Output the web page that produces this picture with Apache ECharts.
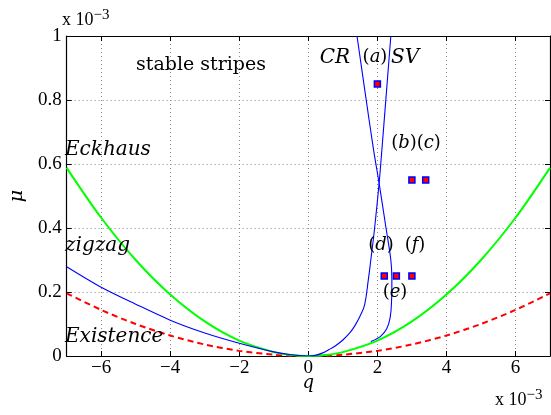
<!DOCTYPE html>
<html>
<head>
<meta charset="utf-8">
<script src="https://cdn.jsdelivr.net/npm/echarts@6/dist/echarts.min.js"></script>
<style>
html, body { margin: 0; padding: 0; background: #fff; }
#chart-container { width: 551px; height: 415px; }
</style>
</head>
<body>
<div id="chart-container"></div>
<script>
// values in units of 1e-3 (q, mu)
var qTicks = [-6, -4, -2, 0, 2, 4, 6];

var existence = [[-7, 0.196], [-6, 0.144], [-5, 0.1], [-4, 0.064], [-3, 0.036], [-2, 0.016], [-1, 0.004], [-0.5, 0.001], [0, 0],
    [0.5, 0.001], [1, 0.004], [2, 0.016], [3, 0.036], [4, 0.064], [5, 0.1], [6, 0.144], [7, 0.196]];
var eckhaus = [[-7, 0.588], [-6, 0.432], [-5, 0.3], [-4, 0.192], [-3, 0.108], [-2, 0.048], [-1, 0.012], [-0.5, 0.003], [0, 0],
    [0.5, 0.003], [1, 0.012], [2, 0.048], [3, 0.108], [4, 0.192], [5, 0.3], [6, 0.432], [7, 0.588]];
var zigzag = [[-7, 0.279], [-6, 0.215], [-5, 0.162], [-4, 0.112], [-3, 0.072], [-2, 0.04], [-1, 0.013], [-0.5, 0.004], [0, 0]];
var crossRoll = [[1.41, 1.0], [1.65, 0.82], [1.89, 0.644], [2.05, 0.54], [2.25, 0.4], [2.39, 0.3], [2.42, 0.24], [2.41, 0.17],
    [2.37, 0.12], [2.27, 0.085], [2.1, 0.062], [1.95, 0.052], [1.81, 0.045]];
var skewVaricose = [[2.39, 1.0], [2.13, 0.644], [2.05, 0.54], [1.92, 0.4], [1.81, 0.3], [1.74, 0.24], [1.63, 0.16], [1.5, 0.125],
    [1.35, 0.095], [1.2, 0.072], [1.0, 0.05], [0.8, 0.033], [0.6, 0.02], [0.4, 0.009], [0.2, 0.002], [0, 0]];
var runs = [[2.0, 0.85], [3.0, 0.55], [3.4, 0.55], [2.2, 0.25], [2.55, 0.25], [3.0, 0.25]];

var dom = document.getElementById('chart-container');
var myChart = echarts.init(dom, null, { renderer: 'canvas' });

var tickFamily = 'Liberation Serif';
var labelFont = 'DejaVu Serif';
var gridLine = { show: true, lineStyle: { color: '#888', type: [1, 3], width: 1 } };

function minus(v) {
    return v < 0 ? '\u2212' + (-v) : String(v);
}

function mathText(x, y, str, align) {
    return {
        type: 'text', x: x, y: y, z: 10,
        style: {
            text: str, align: align || 'center', verticalAlign: 'middle',
            fontFamily: labelFont, fontSize: 20, fontStyle: 'italic', fill: '#000'
        }
    };
}
function tagText(x, y, letters) {
    var s = letters.map(function (l) { return '{n|(}{i|' + l + '}{n|)}'; }).join('');
    return {
        type: 'text', x: x, y: y, z: 10,
        style: {
            text: s, align: 'center', verticalAlign: 'middle', fill: '#000',
            rich: {
                n: { fontFamily: labelFont, fontSize: 18 },
                i: { fontFamily: labelFont, fontSize: 18, fontStyle: 'italic' }
            }
        }
    };
}
function sciText(x, y) {
    return {
        type: 'text', x: x, y: y, z: 10,
        style: {
            text: '{b|x 10}{s|\u22123}', align: 'left', verticalAlign: 'bottom', fill: '#000',
            rich: {
                b: { fontFamily: tickFamily, fontSize: 18 },
                s: { fontFamily: tickFamily, fontSize: 15, verticalAlign: 'top', padding: [0, 0, 10, 0] }
            }
        }
    };
}

var option = {
    animation: false,
    grid: { left: 62, right: 1, top: 36, bottom: 59 },
    xAxis: [
        {
            type: 'value', min: -7, max: 7,
            name: 'q', nameLocation: 'middle', nameGap: 18, nameMoveOverlap: false,
            nameTextStyle: { fontFamily: labelFont, fontStyle: 'italic', fontSize: 18, color: '#000' },
            axisLine: { show: true, onZero: false, lineStyle: { color: '#000', width: 1.2 } },
            axisTick: { show: true, inside: true, length: 5, customValues: qTicks, lineStyle: { color: '#000' } },
            axisLabel: { customValues: qTicks, margin: 3, formatter: minus, fontFamily: tickFamily, fontSize: 19, color: '#000' },
            splitLine: gridLine
        },
        {
            type: 'value', min: -7, max: 7, position: 'top',
            axisLine: { show: true, onZero: false, lineStyle: { color: '#000', width: 1.2 } },
            axisTick: { show: true, inside: true, length: 5, customValues: qTicks, lineStyle: { color: '#000' } },
            axisLabel: { show: false },
            splitLine: { show: false }
        }
    ],
    yAxis: [
        {
            type: 'value', min: 0, max: 1, interval: 0.2,
            name: '\u03bc', nameLocation: 'middle', nameGap: 34, nameRotate: 90,
            nameTextStyle: { fontFamily: labelFont, fontStyle: 'italic', fontSize: 19, color: '#000' },
            axisLine: { show: true, onZero: false, lineStyle: { color: '#000', width: 1.2 } },
            axisTick: { show: true, inside: true, length: 5, lineStyle: { color: '#000' } },
            axisLabel: {
                margin: 5, fontFamily: tickFamily, fontSize: 19, color: '#000',
                formatter: function (v) { return (v === 0 || v === 1) ? String(v) : v.toFixed(1); }
            },
            splitLine: gridLine
        },
        {
            type: 'value', min: 0, max: 1, interval: 0.2, position: 'right',
            axisLine: { show: true, onZero: false, lineStyle: { color: '#000', width: 1.2 } },
            axisTick: { show: true, inside: true, length: 5, lineStyle: { color: '#000' } },
            axisLabel: { show: false },
            splitLine: { show: false }
        }
    ],
    series: [
        {
            name: 'Existence', type: 'line', data: existence, smooth: 0.3, showSymbol: false,
            lineStyle: { color: '#ff0000', width: 2, type: [6, 4] }
        },
        {
            name: 'Eckhaus', type: 'line', data: eckhaus, smooth: 0.3, showSymbol: false,
            lineStyle: { color: '#00ff00', width: 2 }
        },
        {
            name: 'zigzag', type: 'line', data: zigzag, smooth: 0.3, showSymbol: false,
            lineStyle: { color: '#0000ff', width: 1.1 }
        },
        {
            name: 'CR', type: 'line', data: crossRoll, smooth: 0.4, showSymbol: false,
            lineStyle: { color: '#0000ff', width: 1.1 }
        },
        {
            name: 'SV', type: 'line', data: skewVaricose, smooth: 0.4, showSymbol: false,
            lineStyle: { color: '#0000ff', width: 1.1 }
        },
        {
            name: 'runs', type: 'scatter', data: runs, symbol: 'rect', symbolSize: 6, z: 5,
            itemStyle: { color: '#ff0000', borderColor: '#0000ff', borderWidth: 1.5, opacity: 1 }
        }
    ],
    graphic: [
        {
            type: 'text', x: 201, y: 65, z: 10,
            style: { text: 'stable stripes', align: 'center', verticalAlign: 'middle', fontFamily: labelFont, fontSize: 19, fill: '#000' }
        },
        mathText(335, 58, 'CR'),
        tagText(375, 57, ['a']),
        mathText(405, 58, 'SV'),
        tagText(416, 143, ['b', 'c']),
        tagText(381, 245, ['d']),
        tagText(415, 245, ['f']),
        tagText(395, 292, ['e']),
        mathText(65, 150, 'Eckhaus', 'left'),
        mathText(65, 246, 'zigzag', 'left'),
        mathText(65, 337, 'Existence', 'left'),
        sciText(62, 33),
        sciText(495, 413)
    ]
};

if (option && typeof option === 'object') {
    myChart.setOption(option);
}

window.addEventListener('resize', myChart.resize);
</script>
</body>
</html>
